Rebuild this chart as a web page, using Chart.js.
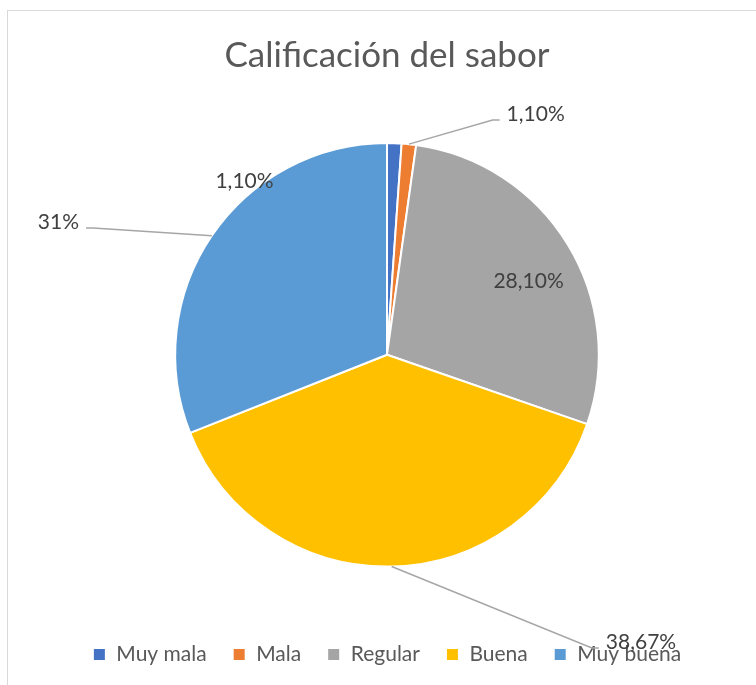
<!DOCTYPE html>
<html>
<head>
<meta charset="utf-8">
<script src="https://cdn.jsdelivr.net/npm/chart.js@4"></script>
<style>
    html, body { margin: 0; padding: 0; background: #fff; overflow: hidden; }
    #frame { position: absolute; left: 7px; top: 10px; width: 780px; height: 700px; border: 1px solid #d9d9d9; }
    #wrap { position: absolute; left: 0; top: 0; width: 756px; height: 685px; }
</style>
</head>
<body>
<div id="frame"></div>
<div id="wrap"><canvas id="saborChart"></canvas></div>
<script>
const categories = ['Muy mala', 'Mala', 'Regular', 'Buena', 'Muy buena'];
const values = [1.10, 1.10, 28.10, 38.67, 31];
const valueLabels = ['1,10%', '1,10%', '28,10%', '38,67%', '31%'];
const sliceColors = ['#4472C4', '#ED7D31', '#A5A5A5', '#FFC000', '#5B9BD5'];

// label spot per slice: clock angle in degrees, distance as share of radius
const labelPlacement = [
    { deg: 320.6, dist: 1.06, leader: false },
    { deg: 31.7, dist: 1.336, leader: true },
    { deg: 62.6, dist: 0.753, leader: false },
    { deg: 138.5, dist: 1.81, leader: true },
    { deg: 292, dist: 1.673, leader: true }
];

const pieLabels = {
    id: 'pieLabels',
    afterDatasetsDraw(chart) {
        const ctx = chart.ctx;
        const arcs = chart.getDatasetMeta(0).data;

        ctx.save();
        ctx.font = '21px Lato';
        ctx.textAlign = 'center';
        ctx.textBaseline = 'middle';

        arcs.forEach((arc, i) => {
            const p = arc.getProps(['x', 'y', 'startAngle', 'endAngle', 'outerRadius'], true);
            const place = labelPlacement[i];
            const a = (place.deg - 90) * Math.PI / 180;
            const tx = p.x + place.dist * p.outerRadius * Math.cos(a);
            const ty = p.y + place.dist * p.outerRadius * Math.sin(a);
            const text = valueLabels[i];
            const w = ctx.measureText(text).width;

            if (place.leader) {
                const mid = (p.startAngle + p.endAngle) / 2;
                const sx = p.x + p.outerRadius * Math.cos(mid);
                const sy = p.y + p.outerRadius * Math.sin(mid);
                const right = tx > p.x;
                const side = right ? tx - w / 2 : tx + w / 2;
                const dir = right ? -1 : 1;

                ctx.strokeStyle = '#A6A6A6';
                ctx.lineWidth = 1.5;
                ctx.beginPath();
                ctx.moveTo(sx, sy);
                ctx.lineTo(side + dir * 14, ty + 6);
                ctx.lineTo(side + dir * 7, ty + 6);
                ctx.stroke();
            }

            ctx.fillStyle = '#404040';
            ctx.fillText(text, tx, ty);
        });

        ctx.restore();
    }
};

new Chart(document.getElementById('saborChart'), {
    type: 'pie',
    data: {
        labels: categories,
        datasets: [{
            data: values,
            backgroundColor: sliceColors,
            borderColor: '#ffffff',
            borderWidth: 2
        }]
    },
    options: {
        responsive: true,
        maintainAspectRatio: false,
        animation: false,
        layout: {
            padding: { left: 18, right: 0, top: 0, bottom: 10 }
        },
        plugins: {
            title: {
                display: true,
                text: 'Calificación del sabor',
                color: '#595959',
                font: { family: 'Lato', size: 35, weight: 'normal' },
                padding: { top: 35, bottom: 65 }
            },
            legend: {
                position: 'bottom',
                title: {
                    // empty title only pushes the legend row down, away from the pie
                    display: true,
                    text: ' ',
                    font: { size: 12 },
                    padding: { top: 18, bottom: 18 }
                },
                labels: {
                    boxWidth: 13,
                    boxHeight: 13,
                    color: '#595959',
                    font: { family: 'Lato', size: 21 },
                    padding: 26
                }
            },
            tooltip: { enabled: false }
        }
    },
    plugins: [pieLabels]
});
</script>
</body>
</html>
